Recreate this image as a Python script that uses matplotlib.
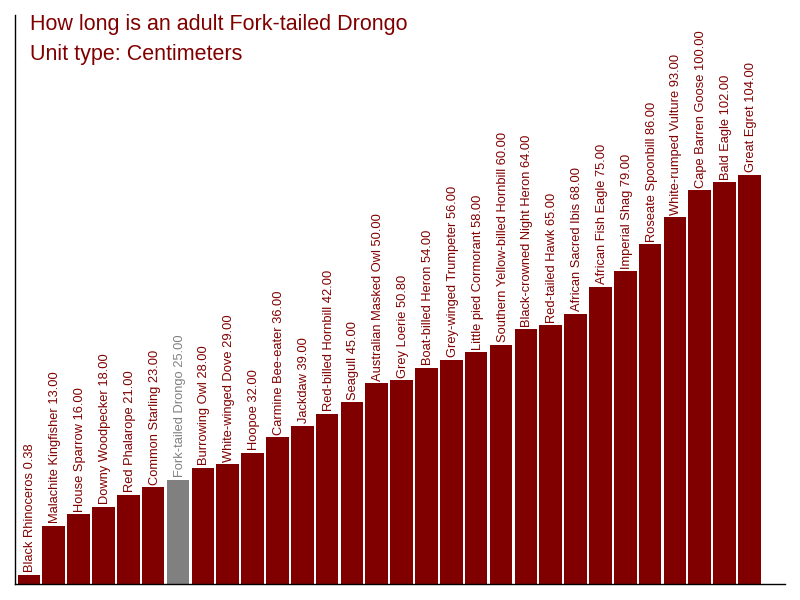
import matplotlib
matplotlib.use("Agg")
import matplotlib.pyplot as plt

names = ["Black Rhinoceros", "Malachite Kingfisher", "House Sparrow", "Downy Woodpecker",
         "Red Phalarope", "Common Starling", "Fork-tailed Drongo", "Burrowing Owl",
         "White-winged Dove", "Hoopoe", "Carmine Bee-eater", "Jackdaw",
         "Red-billed Hornbill", "Seagull", "Australian Masked Owl", "Grey Loerie",
         "Boat-billed Heron", "Grey-winged Trumpeter", "Little pied Cormorant",
         "Southern Yellow-billed Hornbill", "Black-crowned Night Heron", "Red-tailed Hawk",
         "African Sacred Ibis", "African Fish Eagle", "Imperial Shag", "Roseate Spoonbill",
         "White-rumped Vulture", "Cape Barren Goose", "Bald Eagle", "Great Egret"]
values = [0.38, 13, 16, 18, 21, 23, 25, 28, 29, 32, 36, 39, 42, 45, 50, 50.8, 54, 56, 58,
          60, 64, 65, 68, 75, 79, 86, 93, 100, 102, 104]
highlight = "Fork-tailed Drongo"
title_lines = ["How long is an adult Fork-tailed Drongo", "Unit type: Centimeters"]

MAROON = "#800000"
GREY = "#808080"

plt.rcParams['font.family'] = ['Liberation Sans', 'DejaVu Sans']

fig = plt.figure(figsize=(8, 6), dpi=100)
ax = fig.add_axes([15/800, 16/600, 770/800, 569/600])

ymin = -2.07
ymax = 145.4
colors = [GREY if n == highlight else MAROON for n in names]
x = list(range(len(names)))
ax.bar(x, [v - ymin for v in values], bottom=ymin, width=0.91, color=colors, linewidth=0)
for xi, n, v, c in zip(x, names, values, colors):
    ax.annotate(f"{n} {v:.2f}", xy=(xi, v), xytext=(1.1, 1.8), textcoords='offset points',
                rotation=90, ha='center', va='bottom', fontsize=9.25, color=c)

ax.set_xlim(-0.56, 30.43)
ax.set_ylim(ymin, ymax)
ax.set_xticks([])
ax.set_yticks([])
for s in ['top', 'right']:
    ax.spines[s].set_visible(False)
for s in ['left', 'bottom']:
    ax.spines[s].set_color('black')
    ax.spines[s].set_linewidth(1)

fig.text(30/800, 1 - 30/600, title_lines[0], fontsize=15.5, color=MAROON, ha='left', va='baseline')
fig.text(30/800, 1 - 60/600, title_lines[1], fontsize=15.5, color=MAROON, ha='left', va='baseline')

fig.savefig("out.png", dpi=100, facecolor='white')
